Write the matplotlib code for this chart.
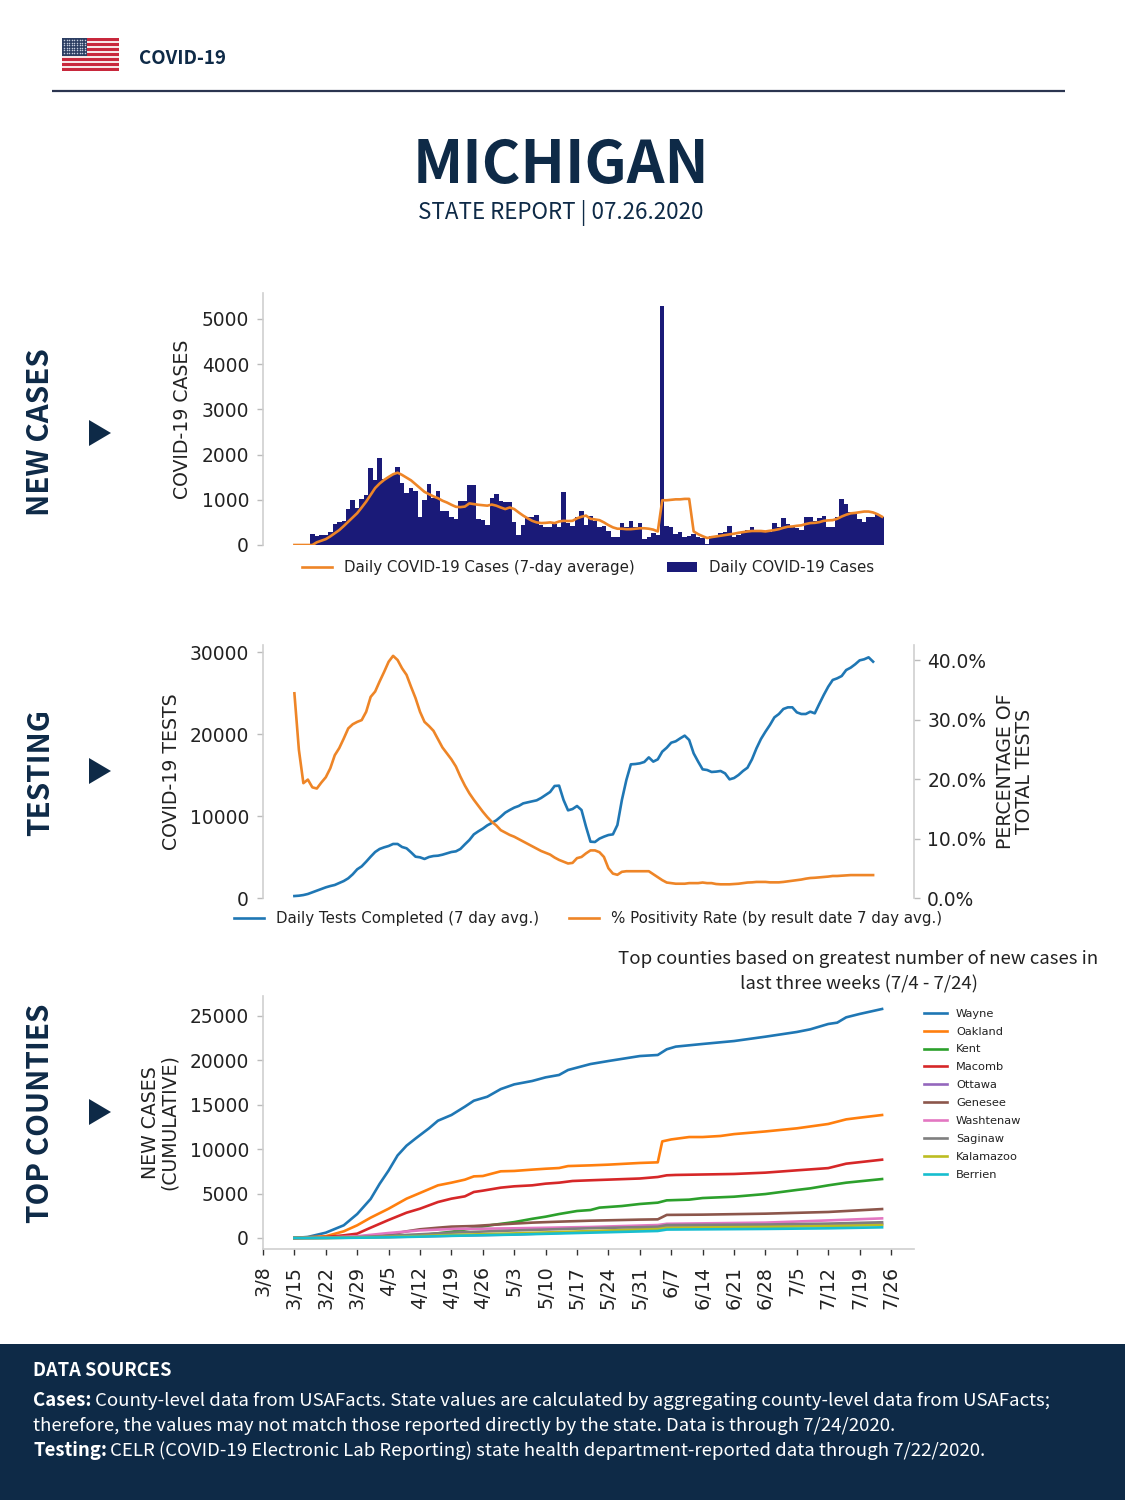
import numpy as np
import matplotlib
matplotlib.use("Agg")
import matplotlib.pyplot as plt
from matplotlib.patches import Rectangle, Polygon

W, H = 1125, 1500
NAVY = "#0e2a47"
HEAD = "Noto Sans CJK SC"
TXT = "#222222"
SP = "#cfcfcf"

week_labels = ["3/8","3/15","3/22","3/29","4/5","4/12","4/19","4/26","5/3","5/10","5/17","5/24","5/31",
               "6/7","6/14","6/21","6/28","7/5","7/12","7/19","7/26"]
week_days = [0,7,14,21,28,35,42,49,56,63,70,77,84,91,98,105,112,119,126,133,140]

case_days = list(range(11, 139))
daily_cases = [250,200,230,230,280,470,500,530,790,990,
 810,1010,1100,1700,1430,1930,1470,1500,1540,1720,
 1370,1140,1270,1200,620,990,1360,1050,1200,760,
 760,620,570,970,980,1320,1330,570,550,440,
 1040,1120,980,960,960,500,230,440,620,610,
 660,440,390,400,460,390,1180,490,430,620,
 760,440,650,520,390,430,300,180,180,490,
 390,520,390,490,130,170,265,220,5290,420,
 400,240,280,180,200,240,180,150,20,190,
 200,260,280,430,170,230,280,330,400,320,
 300,280,280,480,390,590,460,430,375,330,
 610,610,520,595,650,400,400,630,1020,905,
 735,720,575,515,625,610,680,610]

avg_days = list(range(7, 139))
avg_cases = [0,0,0,0,0,60,95,130,190,260,330,420,515,610,705,830,960,1110,1260,1360,1440,1505,1565,1600,
 1550,1490,1430,1345,1260,1175,1125,1075,1035,980,940,890,845,838,850,920,905,890,880,870,895,870,830,795,
 830,795,720,650,590,535,500,485,490,500,485,520,535,530,535,590,625,650,580,565,550,500,440,390,360,360,
 350,350,360,370,370,360,340,300,990,990,1000,1010,1010,1020,1020,300,240,195,155,175,190,205,220,235,250,
 270,285,300,310,310,310,300,315,330,350,380,405,410,425,435,465,485,490,505,535,545,550,580,630,670,700,
 710,725,740,740,720,680,625]

test_days = list(range(7, 137))
daily_tests = [240,280,360,490,690,890,1100,1300,1460,1590,1830,2070,2400,2890,3500,3860,4430,5040,5610,5980,
 6180,6340,6590,6590,6220,6060,5570,5040,4960,4760,5000,5120,5160,5280,5450,5610,5690,5980,6540,7070,
 7760,8130,8460,8860,9150,9470,9920,10410,10730,11020,11220,11540,11670,11790,11910,12200,12560,12930,13660,13700,
 11950,10690,10850,11220,10730,8700,6870,6830,7240,7480,7680,7760,8900,11950,14390,16300,16340,16420,16590,17150,
 16630,16910,17850,18330,18940,19110,19470,19800,19270,17640,16630,15690,15610,15370,15410,15490,15200,14470,14630,15000,
 15490,15890,16910,18250,19390,20280,21100,22030,22440,23050,23250,23250,22640,22440,22440,22720,22520,23660,24760,25770,
 26590,26790,27070,27800,28090,28500,28980,29110,29350,28820]
positivity = [34.4,24.9,19.3,19.9,18.6,18.4,19.4,20.3,21.8,24.0,25.2,26.8,28.5,29.2,29.6,29.9,31.3,33.8,34.7,36.4,
 38.0,39.7,40.7,40.0,38.6,37.5,35.5,33.6,31.3,29.6,28.9,28.1,26.7,25.3,24.3,23.3,22.1,20.4,18.9,17.6,
 16.5,15.5,14.5,13.6,12.8,12.2,11.4,11.0,10.6,10.3,9.9,9.5,9.1,8.7,8.3,7.9,7.6,7.3,6.8,6.4,
 6.1,5.8,5.9,6.7,6.9,7.5,8.0,8.0,7.7,6.9,5.0,4.1,3.9,4.4,4.5,4.5,4.5,4.5,4.5,4.5,
 4.0,3.5,3.0,2.6,2.5,2.4,2.4,2.4,2.5,2.5,2.5,2.6,2.5,2.5,2.35,2.3,2.3,2.3,2.35,2.4,
 2.5,2.6,2.63,2.7,2.7,2.7,2.63,2.63,2.63,2.7,2.8,2.9,3.0,3.1,3.25,3.36,3.4,3.47,3.53,3.6,
 3.7,3.7,3.75,3.8,3.85,3.85,3.85,3.85,3.85,3.85]

wayne_days = [7,10,14,18,21,24,26,28,30,32,34,36,37,39,42,45,47,50,53,56,60,63,66,68,73,77,84,88,90,92,98,105,112,119,122,126,128,130,133,138]
wayne = [0,120,600,1430,2700,4400,6100,7600,9300,10400,11200,11970,12350,13210,13850,14790,15460,15910,16770,17300,17680,18090,18360,18920,19590,19930,20490,20610,21250,21550,21850,22180,22670,23200,23500,24100,24250,24850,25230,25790]
oakland_days = [7,14,18,21,24,28,32,35,39,42,45,47,49,53,56,60,63,66,68,73,77,84,88,89,91,95,98,102,105,112,119,126,130,133,138]
oakland = [0,200,750,1430,2290,3300,4430,5070,5930,6230,6570,6940,6980,7510,7550,7700,7800,7880,8100,8180,8260,8450,8520,10880,11100,11370,11370,11490,11700,12000,12350,12840,13360,13550,13850]
macomb_days = [7,14,18,21,24,28,32,35,39,42,45,47,49,53,56,60,63,66,69,73,84,88,90,92,105,112,119,126,130,138]
macomb = [0,110,300,490,1160,2030,2850,3300,4050,4430,4690,5180,5330,5670,5820,5930,6120,6230,6420,6500,6700,6870,7060,7100,7210,7360,7620,7870,8370,8820]
kent_days = [7,21,28,35,42,51,56,60,63,66,70,73,75,80,84,88,90,95,98,105,112,119,122,126,130,138]
kent = [0,40,200,300,700,1460,1790,2160,2400,2700,3040,3150,3420,3600,3830,3980,4240,4320,4500,4650,4950,5410,5590,5930,6230,6640]
genesee_days = [7,14,21,28,32,35,39,42,47,53,60,66,73,84,88,90,98,112,126,138]
genesee = [0,40,150,380,750,980,1160,1280,1350,1540,1730,1840,1950,2070,2100,2600,2630,2740,2930,3260]
washtenaw_days = [7,14,21,28,35,42,56,73,88,90,112,126,138]
washtenaw = [0,40,200,560,860,1010,1090,1240,1460,1600,1730,1980,2210]
low_days = [7,14,21,28,35,42,56,73,88,90,112,126,138]
ottawa = [0,10,40,100,180,260,400,700,1100,1250,1350,1450,1560]
saginaw = [0,20,100,250,420,600,850,1100,1270,1460,1520,1620,1770]
kalamazoo = [0,10,50,120,220,340,520,780,1000,1150,1250,1340,1460]
berrien = [0,5,30,80,150,240,380,600,790,950,1020,1090,1200]

fig = plt.figure(figsize=(W/100, H/100), dpi=100, facecolor="white")

def axpx(l, t, r, b, **kw):
    return fig.add_axes([l/W, 1-b/H, (r-l)/W, (b-t)/H], **kw)

bg = fig.add_axes([0, 0, 1, 1], zorder=0)
bg.set_xlim(0, W); bg.set_ylim(H, 0); bg.axis("off")

def t(x, y, s, **kw):
    kw.setdefault("family", HEAD); kw.setdefault("color", NAVY)
    kw.setdefault("va", "center"); kw.setdefault("ha", "left")
    return bg.text(x, y, s, **kw)

# flag
stripe_h = 33/13
for i in range(13):
    bg.add_patch(Rectangle((62, 38+i*stripe_h), 57, stripe_h, fc="#c8283c" if i % 2 == 0 else "#f6e6e6", lw=0))
bg.add_patch(Rectangle((62, 38), 24.5, 18, fc="#2d3f63", lw=0))
sx, sy = np.meshgrid(np.arange(64, 86, 2.6), np.arange(40, 55, 2.5))
bg.scatter(sx.ravel(), sy.ravel(), s=1.2, c="#c6cede", lw=0)

t(139, 58.5, "COVID-19", fontsize=13.5, fontweight="bold")
bg.plot([52, 1065], [90.5, 90.5], color="#2b3550", lw=1.6, solid_capstyle="butt")
t(560.5, 165.5, "MICHIGAN", fontsize=42.4, fontweight="bold", ha="center")
t(560.5, 213.5, "STATE REPORT | 07.26.2020", fontsize=16.1, ha="center")

t(40, 432.5, "NEW CASES", fontsize=21.3, fontweight="bold", rotation=90, ha="center")
t(40, 772.5, "TESTING", fontsize=21.3, fontweight="bold", rotation=90, ha="center")
t(40, 1113.5, "TOP COUNTIES", fontsize=21.3, fontweight="bold", rotation=90, ha="center")
for cy in (433, 771, 1112):
    bg.add_patch(Polygon([(89, cy-13), (89, cy+13), (111, cy)], fc=NAVY, lw=0))

t(858.5, 959, "Top counties based on greatest number of new cases in", fontsize=13.4, ha="center", color=TXT)
t(858.5, 984, "last three weeks (7/4 - 7/24)", fontsize=13.4, ha="center", color=TXT)

# footer
bg.add_patch(Rectangle((0, 1344), W, 156, fc=NAVY, lw=0))
t(33, 1376, "DATA SOURCES", fontsize=13.2, fontweight="bold", color="white", va="baseline")
FS = 13.4
def mixed(y, bold, rest):
    a = t(33, y, bold, fontsize=FS, fontweight="bold", color="white", va="baseline")
    fig.canvas.draw()
    ext = a.get_window_extent()
    t(ext.x1 + 3.5, y, rest, fontsize=FS, color="white", va="baseline")
mixed(1406, "Cases:", "County-level data from USAFacts. State values are calculated by aggregating county-level data from USAFacts;")
t(33, 1431, "therefore, the values may not match those reported directly by the state. Data is through 7/24/2020.", fontsize=FS, color="white", va="baseline")
mixed(1456, "Testing:", "CELR (COVID-19 Electronic Lab Reporting) state health department-reported data through 7/22/2020.")

XL = (0, (914-263)/4.486)
TS = 13.4
LS = 13.6
LEG = 10.8

def style(ax):
    ax.set_xlim(*XL)
    ax.patch.set_alpha(0)
    for s in ("top", "right", "bottom"):
        ax.spines[s].set_visible(False)
    ax.spines["left"].set_color(SP); ax.spines["left"].set_linewidth(1.2)
    ax.tick_params(axis="y", labelsize=TS, length=4.5, width=1, color="#bbbbbb", pad=5.5, labelcolor=TXT)

# chart 1
a1 = axpx(263, 293, 914, 545, zorder=2)
style(a1)
a1.bar(case_days, daily_cases, width=1.0, color="#1a1a78", label="Daily COVID-19 Cases", lw=0)
a1.plot(avg_days, avg_cases, color="#ee8527", lw=1.9, label="Daily COVID-19 Cases (7-day average)")
a1.set_ylim(0, 5575)
a1.set_yticks([0, 1000, 2000, 3000, 4000, 5000])
a1.set_xticks([])
a1.set_ylabel("COVID-19 CASES", fontsize=LS, color=TXT)
a1.yaxis.set_label_coords((192-263)/651, 0.5)
h, l = a1.get_legend_handles_labels()
a1.legend(h, l, ncol=2, frameon=False, fontsize=LEG, loc="center", labelcolor=TXT,
          bbox_to_anchor=((588-263)/651, -23/252), handlelength=2.0, handletextpad=0.8, columnspacing=2.2)

# chart 2
a2 = axpx(263, 645, 914, 898, zorder=2)
style(a2)
l1, = a2.plot(test_days, daily_tests, color="#1f77b4", lw=1.9, label="Daily Tests Completed (7 day avg.)")
a2.set_ylim(0, 253/8.2*1000)
a2.set_yticks([0, 10000, 20000, 30000])
a2.set_xticks([])
a2.set_ylabel("COVID-19 TESTS", fontsize=LS, color=TXT)
a2.yaxis.set_label_coords((181-263)/651, 0.5)
b2 = a2.twinx()
b2.set_zorder(3); b2.patch.set_alpha(0)
l2, = b2.plot(test_days, positivity, color="#ee8527", lw=1.9, label="% Positivity Rate (by result date 7 day avg.)")
b2.set_xlim(*XL)
b2.set_ylim(0, 253/5.95)
b2.set_yticks([0, 10, 20, 30, 40])
b2.set_yticklabels(["0.0%", "10.0%", "20.0%", "30.0%", "40.0%"])
for s in ("top", "left", "bottom"):
    b2.spines[s].set_visible(False)
b2.spines["right"].set_color(SP); b2.spines["right"].set_linewidth(1.2)
b2.tick_params(axis="y", labelsize=TS, length=4.5, width=1, color="#bbbbbb", pad=5, labelcolor=TXT)
b2.set_ylabel("PERCENTAGE OF\nTOTAL TESTS", fontsize=LS, color=TXT, linespacing=1.03)
b2.yaxis.set_label_coords((996-263)/651, 0.5)
b2.legend([l1, l2], [l1.get_label(), l2.get_label()], ncol=2, frameon=False, fontsize=LEG, loc="center", labelcolor=TXT,
          bbox_to_anchor=((588-263)/651, -21/253), handlelength=2.0, handletextpad=0.8, columnspacing=2.0)

# chart 3
a3 = axpx(263, 996, 914, 1249, zorder=2)
style(a3)
a3.spines["bottom"].set_visible(True); a3.spines["bottom"].set_color(SP); a3.spines["bottom"].set_linewidth(1.2)
C = {"Wayne":"#1f77b4","Oakland":"#ff7f0e","Kent":"#2ca02c","Macomb":"#d62728","Ottawa":"#9467bd",
     "Genesee":"#8c564b","Washtenaw":"#e377c2","Saginaw":"#7f7f7f","Kalamazoo":"#bcbd22","Berrien":"#17becf"}
for name, xs, ys in [("Wayne", wayne_days, wayne), ("Oakland", oakland_days, oakland), ("Kent", kent_days, kent),
                     ("Macomb", macomb_days, macomb), ("Ottawa", low_days, ottawa), ("Genesee", genesee_days, genesee),
                     ("Washtenaw", washtenaw_days, washtenaw), ("Saginaw", low_days, saginaw),
                     ("Kalamazoo", low_days, kalamazoo), ("Berrien", low_days, berrien)]:
    a3.plot(xs, ys, color=C[name], lw=1.9, label=name)
a3.set_ylim(-1239, 27252)
a3.set_yticks([0, 5000, 10000, 15000, 20000, 25000])
a3.set_xticks(week_days)
a3.set_xticklabels(week_labels, rotation=90, fontsize=13.8, color=TXT)
a3.tick_params(axis="x", length=4, width=1, color="#333333", pad=8)
a3.set_ylabel("NEW CASES\n(CUMULATIVE)", fontsize=LS, color=TXT, linespacing=1.0)
a3.yaxis.set_label_coords((179-263)/651, 0.5)
a3.legend(frameon=False, fontsize=8.2, loc="upper left", bbox_to_anchor=((919-263)/651, 1-8/253), labelcolor=TXT,
          handlelength=2.1, handletextpad=0.75, labelspacing=0.7, borderpad=0.4, borderaxespad=0)

fig.savefig("out.png", dpi=100, facecolor="white")
